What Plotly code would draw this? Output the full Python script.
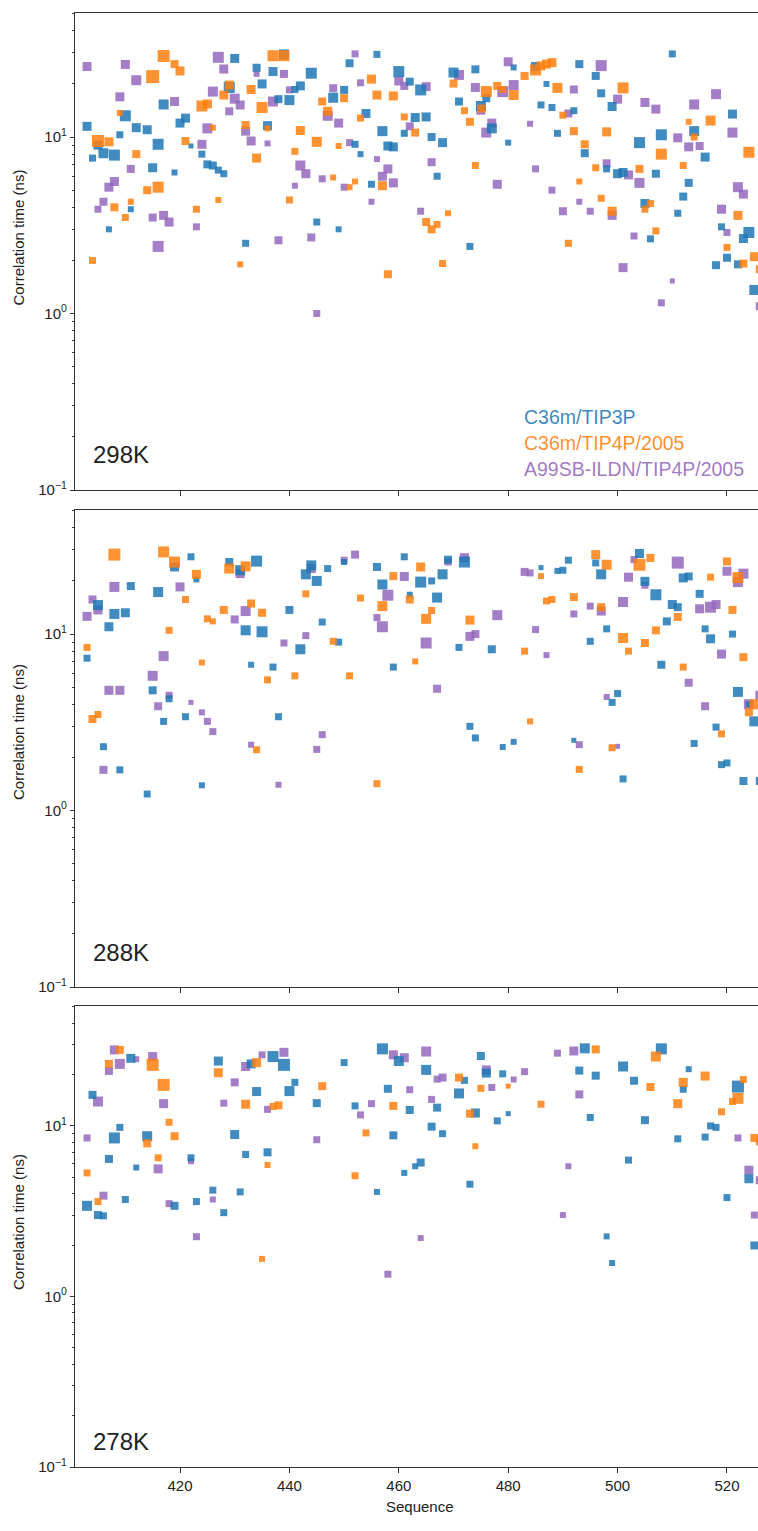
import plotly.graph_objects as go

# ---------------- data ----------------
SERIES = ["C36m/TIP3P", "C36m/TIP4P/2005", "A99SB-ILDN/TIP4P/2005"]
COLORS = ["#1f77b4", "#ff7f0e", "#9467bd"]
TEXT_COLORS = ["rgba(31,119,180,0.88)", "rgba(255,127,14,0.88)", "rgba(148,103,189,0.88)"]
TEMPS = ["298K", "288K", "278K"]

# ---- 298K ----
x298_b = [403,404,405,406,407,408,409,410,411,412,414,415,416,417,419,420,421,422,424,425,426,427,428,429,430,432,434,435,436,437,438,439,440,441,442,444,445,448,449,450,451,452,453,454,455,456,457,458,459,460,461,462,463,464,465,466,467,468,470,471,473,474,475,476,477,480,481,485,486,487,488,489,492,493,494,496,497,498,499,500,501,504,505,506,507,508,510,511,512,513,514,516,518,519,520,521,522,523,524,525]
y298_b = [11.5,7.6,9.0,8.1,3.0,7.9,10.3,13.2,3.9,11.3,11.0,6.7,9.1,15.3,6.3,12.0,12.8,8.9,8.0,7.0,6.9,6.5,6.2,19.1,27.9,2.5,24.7,20.0,11.6,23.5,16.4,29.4,16.2,18.6,19.5,23.0,3.3,16.7,3.0,18.5,26.2,9.1,8.0,13.6,5.4,29.4,10.8,8.9,8.8,23.5,10.5,20.6,12.9,18.5,13.0,10.0,6.0,9.3,23.2,15.9,2.4,24.2,15.0,16.6,11.2,9.3,24.8,25.1,15.2,20.0,14.7,10.5,14.1,25.9,8.1,22.2,17.7,6.6,14.9,6.2,6.3,9.3,4.2,2.65,6.2,10.3,29.6,3.7,4.6,5.5,10.8,7.7,1.88,3.1,2.07,13.5,1.9,2.66,2.88,1.36]
w298_b = [9,7,9,10,6,11,7,11,6,9,9,9,11,10,6,9,9,5,7,8,8,7,7,11,9,7,8,9,9,9,8,10,10,7,9,11,7,10,6,8,8,7,6,9,7,7,10,9,9,11,7,8,9,11,9,8,7,9,10,8,7,8,10,8,10,6,6,9,7,6,7,7,7,8,8,8,8,7,9,9,9,11,9,7,8,11,7,7,8,8,10,9,8,7,8,9,8,9,11,10]

x298_o = [404,405,407,408,409,410,411,412,414,415,416,417,419,420,421,423,424,425,426,427,428,429,431,432,433,434,435,436,437,439,440,441,442,445,446,447,448,449,450,451,452,453,455,456,457,458,459,461,463,465,466,467,468,469,470,472,473,474,475,476,478,479,481,483,485,486,487,488,489,490,491,492,493,494,496,497,498,499,501,504,505,506,507,508,512,513,514,517,520,522,523,524,525,526]
y298_o = [2.0,9.5,9.4,4.0,13.7,3.5,4.3,8.0,5.0,22.0,5.2,28.8,25.9,23.7,9.5,3.9,15.0,15.4,11.3,4.4,17.3,19.7,1.9,11.7,18.6,7.6,14.7,11.2,28.9,28.9,4.4,8.3,10.9,9.4,15.9,14.0,5.9,8.9,16.6,5.2,5.6,12.8,21.3,17.3,5.3,1.67,17.1,13.0,10.6,3.3,3.0,3.2,1.92,3.7,20.1,14.1,12.2,6.9,14.5,18.1,19.5,18.6,17.3,22.2,24.0,25.3,25.9,26.4,19.0,13.3,2.5,10.8,5.6,9.1,6.7,4.5,10.7,3.8,19.0,6.6,3.9,4.2,2.94,8.0,6.9,12.2,10.0,12.4,2.37,3.6,1.92,8.2,2.1,1.78]
w298_o = [7,12,9,8,6,7,6,8,8,13,11,12,8,9,8,7,11,9,6,6,9,9,6,8,9,9,11,6,11,11,7,7,9,10,8,9,6,6,8,6,6,7,9,9,9,8,9,7,8,8,8,7,7,6,8,7,8,7,8,11,8,7,10,8,11,9,9,9,10,7,7,8,6,8,7,7,9,9,11,8,7,7,7,11,7,6,7,10,7,9,8,11,9,8]

x298_p = [403,405,406,407,408,409,410,411,412,415,416,417,418,419,423,424,425,426,427,428,429,430,431,432,433,434,436,437,438,439,440,441,442,443,444,445,446,447,448,449,450,451,452,453,455,456,457,458,459,460,461,462,464,465,466,471,474,475,476,477,478,479,480,481,484,485,488,490,491,492,493,495,497,498,499,500,501,502,503,504,505,507,508,510,511,513,514,515,518,519,520,521,522,523,526]
y298_p = [25.1,3.9,4.3,5.2,5.6,16.9,25.8,6.6,21.0,3.5,2.4,3.6,3.3,15.9,3.1,9.1,11.2,18.1,28.3,24.3,14.0,16.5,15.2,10.8,9.5,22.8,9.2,15.9,2.6,22.8,18.5,5.3,6.9,6.2,2.7,1.0,5.8,13.2,18.9,12.0,5.2,9.3,29.6,20.3,4.3,7.5,6.0,6.6,5.5,20.8,19.5,11.5,3.8,19.3,7.2,22.5,19.1,14.2,10.6,12.0,5.4,18.1,26.7,19.7,11.9,6.6,5.0,3.8,13.6,18.6,4.3,3.8,25.4,7.1,3.6,16.4,1.82,6.1,2.75,5.5,15.7,14.4,1.15,1.53,9.9,8.8,15.3,8.9,17.5,3.9,2.88,10.6,5.2,4.75,1.1]
w298_p = [9,7,8,9,9,9,9,8,10,8,11,9,9,9,7,9,10,10,11,9,8,10,9,9,9,6,6,10,8,8,7,6,10,9,8,7,7,10,8,9,7,7,7,7,6,6,9,9,9,9,8,8,7,9,8,10,9,9,10,9,9,11,9,10,6,7,7,8,8,8,6,7,11,8,9,9,9,9,7,10,9,9,7,5,9,9,10,8,10,9,7,10,10,9,8]

# ---- 288K ----
x288_b = [403,405,406,407,408,409,410,411,414,415,416,417,418,419,421,422,423,424,429,431,432,433,434,435,437,438,440,442,443,444,445,446,447,449,450,456,457,459,461,462,464,466,467,468,469,471,472,473,474,477,479,481,486,489,490,491,492,495,496,497,498,499,500,501,504,505,507,508,509,510,511,512,513,514,515,516,517,518,519,520,521,522,523,524,525,526]
y288_b = [7.3,14.6,2.3,11.0,13.0,1.70,13.2,18.7,1.24,4.8,17.3,3.2,4.3,24.0,3.4,27.4,20.4,1.39,25.6,23.0,10.5,6.7,25.9,10.3,6.5,3.4,13.7,8.2,21.8,24.5,20.0,11.7,23.5,9.0,25.6,24.0,19.1,6.5,27.4,16.7,19.7,20.0,16.1,21.8,26.4,8.4,25.6,3.0,2.58,8.2,2.29,2.45,23.8,22.8,23.0,26.2,2.5,9.1,25.3,21.8,10.7,4.1,4.6,1.51,28.6,19.9,16.7,6.7,11.8,14.7,14.2,20.8,21.2,2.4,16.9,10.7,9.4,2.97,1.82,1.86,10.0,4.7,1.47,4.0,3.2,1.47]
w288_b = [7,10,7,9,10,7,9,8,7,8,10,7,7,9,7,7,6,6,8,10,10,6,11,11,7,7,8,10,10,10,10,7,7,7,6,8,10,7,7,6,11,7,10,10,8,7,11,7,7,8,6,6,5,6,7,7,5,7,7,10,7,7,7,7,9,9,11,8,8,9,8,9,8,7,8,7,9,7,7,7,7,10,8,6,10,8]

x288_o = [403,404,405,408,417,418,419,421,423,424,425,426,428,429,432,433,434,435,436,441,443,448,451,453,456,457,459,462,463,464,465,466,473,483,484,486,487,488,492,493,496,497,498,499,501,502,504,505,506,507,511,512,517,519,520,521,522,523,524,525]
y288_o = [8.4,3.3,3.5,28.2,29.2,10.5,25.6,15.7,21.8,6.9,12.2,11.8,13.7,23.5,24.2,14.9,2.21,13.2,5.5,5.8,16.9,9.1,5.8,16.0,1.42,14.4,21.3,15.7,7.0,24.0,12.2,13.6,12.0,8.0,3.2,21.3,15.4,15.7,16.2,1.71,28.2,14.2,24.7,2.27,9.5,8.0,24.7,8.9,27.0,10.5,12.5,6.5,21.0,2.72,25.8,13.7,20.9,7.4,3.6,4.0]
w288_o = [7,8,7,12,11,7,11,7,9,6,7,6,8,10,10,8,7,8,7,7,7,7,7,7,7,10,8,8,6,9,10,7,9,7,6,6,7,7,8,7,9,8,10,7,10,7,12,8,8,8,8,7,7,7,8,8,11,8,8,10]

x288_p = [403,404,405,406,407,408,409,415,416,417,418,420,422,424,425,426,430,431,432,433,438,439,443,444,445,446,450,452,456,457,458,461,465,467,469,472,473,474,478,483,484,485,487,492,493,495,497,498,500,501,502,503,505,511,513,515,516,517,518,519,520,522,523,524,526]
y288_p = [12.6,15.7,13.7,1.70,4.8,18.5,4.8,5.8,3.9,7.5,4.5,18.5,4.1,3.6,3.2,2.8,12.1,22.0,13.5,2.36,1.40,8.9,9.8,23.5,2.22,2.69,26.2,28.2,12.4,11.0,16.6,21.2,8.9,4.9,25.6,27.1,9.7,10.0,12.8,22.5,22.2,10.6,7.6,13.0,2.36,14.4,13.5,4.4,2.31,15.2,21.0,26.4,18.9,25.4,5.3,13.9,3.9,14.2,14.7,7.7,22.7,19.7,22.0,4.0,4.5]
w288_p = [9,8,9,8,9,10,9,10,8,10,7,9,5,6,7,7,8,9,10,6,6,7,7,9,7,7,7,8,7,11,11,9,11,8,7,9,9,8,10,8,7,7,6,7,7,7,9,6,5,10,9,7,7,12,8,9,8,11,9,9,9,10,10,10,9]

# ---- 278K ----
x278_b = [403,404,405,406,407,408,409,410,411,412,414,419,422,423,426,427,428,430,431,432,433,434,436,437,439,440,441,445,450,452,456,457,458,459,460,461,462,463,464,465,466,467,468,471,472,473,474,475,476,478,479,480,493,494,495,496,498,499,501,502,503,505,508,511,512,513,516,517,518,520,522,524,525]
y278_b = [3.4,15.2,3.0,2.97,6.4,8.5,9.8,3.7,24.9,5.7,8.7,3.4,6.5,3.6,4.2,24.0,3.1,8.9,4.1,6.8,23.1,15.9,7.0,25.5,22.8,16.0,18.0,13.6,23.5,13.1,4.1,28.3,16.5,8.8,24.0,5.3,12.4,5.8,6.1,21.3,9.9,12.8,9.0,15.5,18.5,4.55,11.9,25.7,20.4,10.7,20.2,11.8,21.1,28.5,11.2,19.7,2.25,1.57,22.3,6.3,18.4,10.8,28.3,8.4,16.4,21.5,8.6,10.0,9.8,3.8,17.0,4.9,1.99]
w278_b = [10,8,8,7,8,11,7,7,9,6,10,8,7,7,7,9,7,9,7,7,9,9,8,11,12,10,7,8,7,7,6,11,8,8,10,6,8,6,8,10,8,8,7,10,7,7,9,8,9,7,7,5,8,10,7,8,6,6,10,7,8,8,11,7,7,6,7,7,7,7,12,9,8]

x278_o = [403,405,407,409,414,415,416,417,418,419,427,432,434,435,436,437,438,446,452,454,459,471,473,474,475,480,486,496,506,507,511,512,516,519,521,522,523,525,526]
y278_o = [5.3,3.6,23.1,27.9,7.9,22.8,6.5,17.4,10.5,8.7,20.5,13.4,23.5,1.66,5.9,13.0,13.2,17.1,5.1,9.1,13.1,19.2,11.8,7.6,16.6,17.1,13.4,28.1,16.9,25.5,13.5,18.0,19.6,12.1,13.9,14.5,18.7,8.5,8.1]
w278_o = [7,7,8,8,8,12,7,12,7,8,9,9,9,6,6,7,8,8,7,7,8,8,8,6,7,5,7,8,8,10,9,9,9,7,7,11,7,8,8]

x278_p = [403,405,406,407,408,409,412,415,416,417,418,422,423,426,428,430,432,435,436,439,445,453,455,458,459,461,462,464,465,466,467,468,476,477,481,483,489,490,491,492,493,522,524,525,526]
y278_p = [8.5,13.9,3.9,21.0,27.9,23.1,24.6,25.5,5.6,13.5,3.5,6.2,2.24,3.7,13.6,18.0,22.3,26.1,12.5,27.0,8.3,11.6,13.5,1.35,26.1,25.1,16.3,2.2,27.3,14.3,18.8,19.2,21.3,16.8,18.7,20.8,26.7,3.0,5.8,27.5,15.3,8.5,5.5,3.0,4.8]
w278_p = [7,10,8,8,9,10,6,9,9,9,7,6,7,6,7,8,9,7,7,9,7,7,7,7,9,9,7,6,10,7,7,8,9,7,6,7,7,6,6,9,8,7,9,7,8]

SEQ_RANGE = [400.8, 525.67]
TICK_SEQ = [420, 440, 460, 480, 500, 520]
panels = [
    [(x298_b, y298_b, w298_b), (x298_o, y298_o, w298_o), (x298_p, y298_p, w298_p)],
    [(x288_b, y288_b, w288_b), (x288_o, y288_o, w288_o), (x288_p, y288_p, w288_p)],
    [(x278_b, y278_b, w278_b), (x278_o, y278_o, w278_o), (x278_p, y278_p, w278_p)],
]

# ---------------- figure ----------------
W, H = 758, 1531
ML, MR, MT, MB = 75, 0, 13, 64
PH = H - MT - MB
PW = W - ML - MR

def py(px):  # pixel y -> paper
    return (H - MB - px) / PH

def pxx(px):
    return (px - ML) / PW

panel_px = [(13, 490), (510, 987), (1006, 1467)]
FONT = "Liberation Sans, Arial, Helvetica, sans-serif"
TXT = "#222222"

fig = go.Figure()
draw_order = [2, 0, 1]
for i, series_sets in enumerate(panels):
    ax = "" if i == 0 else str(i + 1)
    for k in draw_order:
        xs, ys, ws = series_sets[k]
        fig.add_trace(go.Scatter(
            x=xs, y=ys, mode="markers", name=SERIES[k],
            marker=dict(symbol="square", size=ws, color=COLORS[k], opacity=0.85,
                        line=dict(width=0)),
            xaxis="x" + ax, yaxis="y" + ax, showlegend=False,
        ))

minor_vals = [m * 10 ** e for e in (-1, 0, 1) for m in range(2, 10)]
layout = dict(
    width=W, height=H, margin=dict(l=ML, r=MR, t=MT, b=MB),
    paper_bgcolor="white", plot_bgcolor="white",
    font=dict(family=FONT, size=15, color=TXT),
    showlegend=False,
)
annotations = []
for i, (top, bot) in enumerate(panel_px):
    ax = "" if i == 0 else str(i + 1)
    layout["xaxis" + ax] = dict(
        domain=[0, 1], anchor="y" + ax, range=SEQ_RANGE,
        tickvals=TICK_SEQ, ticks="outside", ticklen=5, tickwidth=1, tickcolor="#333",
        showticklabels=(i == 2), tickfont=dict(size=15, color=TXT),
        showline=True, linecolor="#333", linewidth=1.2, mirror=True,
        showgrid=False, zeroline=False,
    )
    layout["yaxis" + ax] = dict(
        domain=[py(bot), py(top)], anchor="x" + ax, type="log", range=[-1, 1.703],
        tickvals=[0.1, 1, 10],
        ticktext=["10<sup>\u22121</sup>", "10<sup>0</sup>", "10<sup>1</sup>"],
        ticks="outside", ticklen=4, tickwidth=1, tickcolor="#333",
        tickfont=dict(size=15, color=TXT),
        minor=dict(tickvals=minor_vals, ticks="outside", ticklen=2, tickwidth=1,
                   tickcolor="#333", showgrid=False),
        showline=True, linecolor="#333", linewidth=1.2, mirror=False,
        showgrid=False, zeroline=False,
    )
    ycen = [237.5, 732, 1222][i]
    annotations.append(dict(
        text="Correlation time (ns)", xref="paper", yref="paper",
        x=pxx(18), y=py(ycen), xanchor="center", yanchor="middle",
        textangle=-90, showarrow=False, font=dict(size=15, color=TXT),
    ))
    tcen = [454, 953, 1441.5][i]
    annotations.append(dict(
        text=TEMPS[i], xref="paper", yref="paper",
        x=pxx(91), y=py(tcen), xanchor="left", yanchor="middle",
        showarrow=False, font=dict(size=24, color=TXT),
    ))

for k, ycen in enumerate([417, 443, 468.5]):
    annotations.append(dict(
        text=SERIES[k], xref="paper", yref="paper",
        x=pxx(522), y=py(ycen), xanchor="left", yanchor="middle",
        showarrow=False, font=dict(size=19.5, color=TEXT_COLORS[k]),
    ))

annotations.append(dict(
    text="Sequence", xref="paper", yref="paper",
    x=pxx(420), y=py(1506), xanchor="center", yanchor="middle",
    showarrow=False, font=dict(size=15, color=TXT),
))
layout["annotations"] = annotations
fig.update_layout(**layout)
fig.write_html("out.html")
